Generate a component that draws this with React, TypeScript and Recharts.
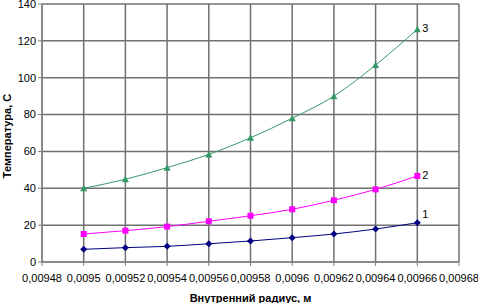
import React from 'react';
import { LineChart, Line, XAxis, YAxis, CartesianGrid, Label } from 'recharts';

// radius values, m
const radius = [0.0095, 0.00952, 0.00954, 0.00956, 0.00958, 0.0096, 0.00962, 0.00964, 0.00966];
const temp1 = [6.9, 7.8, 8.5, 9.9, 11.4, 13.2, 15.2, 17.9, 21.3];
const temp2 = [15.2, 17.0, 19.2, 22.1, 25.1, 28.6, 33.5, 39.4, 46.7];
const temp3 = [40.0, 44.9, 51.2, 58.4, 67.4, 78.0, 90.0, 106.9, 126.3];

const xTicks = [0.00948, 0.0095, 0.00952, 0.00954, 0.00956, 0.00958, 0.0096, 0.00962, 0.00964, 0.00966, 0.00968];
const yTicks = [0, 20, 40, 60, 80, 100, 120, 140];

const data = radius.map((r, i) => ({ r, t1: temp1[i], t2: temp2[i], t3: temp3[i] }));

const FONT = '"Liberation Sans", Arial, sans-serif';

const endLabel = (name: string, dy: number) => (props: any) => {
  const { x, y, index } = props;
  if (index !== radius.length - 1) return null;
  return (
    <text x={x + 5} y={y + dy} fontSize={11} fontFamily={FONT} fill="#000" dominantBaseline="middle">
      {name}
    </text>
  );
};

const Diamond = (props: any) => {
  const { cx, cy } = props;
  return <polygon points={`${cx},${cy - 3.5} ${cx + 3.5},${cy} ${cx},${cy + 3.5} ${cx - 3.5},${cy}`} fill="#000080" />;
};
const Square = (props: any) => {
  const { cx, cy } = props;
  return <rect x={cx - 3} y={cy - 3} width={6} height={6} fill="#ff00ff" />;
};
const Triangle = (props: any) => {
  const { cx, cy } = props;
  return <polygon points={`${cx},${cy - 3.5} ${cx + 3.5},${cy + 3} ${cx - 3.5},${cy + 3}`} fill="#339966" />;
};

export default function App() {
  return (
    <div style={{ position: 'absolute', left: 0, top: 0, background: '#fff' }}>
      <LineChart width={478} height={303} data={data} margin={{ top: 4, right: 19, left: 0, bottom: 0 }}>
        <CartesianGrid stroke="#707070" strokeWidth={1.5} />
        <XAxis
          dataKey="r"
          type="number"
          domain={[0.00948, 0.00968]}
          ticks={xTicks}
          interval={0}
          height={41}
          tickSize={4}
          stroke="#808080"
          tick={{ fontSize: 11, fontFamily: FONT, fill: '#000', dy: 6 }}
          tickFormatter={(v: number) => String(v).replace('.', ',')}
        >
          <Label value="Внутренний радиус, м" position="insideBottom" offset={1} style={{ fontSize: 11, fontWeight: 'bold', fontFamily: FONT, fill: '#000' }} />
        </XAxis>
        <YAxis
          type="number"
          domain={[0, 140]}
          ticks={yTicks}
          interval={0}
          width={42}
          tickSize={4}
          stroke="#808080"
          tick={{ fontSize: 11, fontFamily: FONT, fill: '#000' }}
        >
          <Label value="Температура, С" angle={-90} position="insideLeft" offset={7} dy={3} style={{ fontSize: 11, fontWeight: 'bold', fontFamily: FONT, fill: '#000', textAnchor: 'middle' }} />
        </YAxis>
        <Line type="monotone" dataKey="t1" stroke="#000080" strokeWidth={1} dot={<Diamond />} isAnimationActive={false} label={endLabel('1', -8)} />
        <Line type="monotone" dataKey="t2" stroke="#ff00ff" strokeWidth={1} dot={<Square />} isAnimationActive={false} label={endLabel('2', 0)} />
        <Line type="monotone" dataKey="t3" stroke="#339966" strokeWidth={1} dot={<Triangle />} isAnimationActive={false} label={endLabel('3', 0)} />
      </LineChart>
    </div>
  );
}
